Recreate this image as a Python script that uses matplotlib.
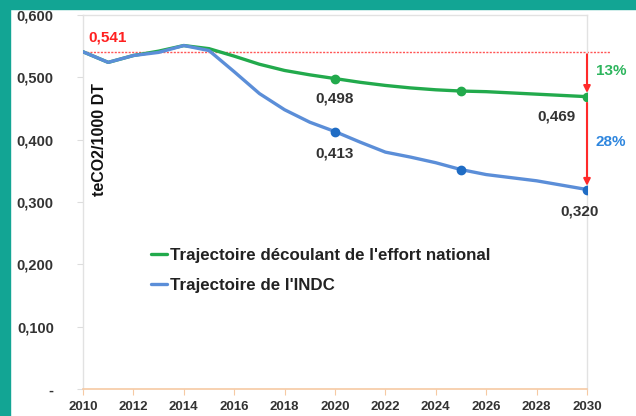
import matplotlib
matplotlib.use("Agg")
import matplotlib.pyplot as plt
from matplotlib.patches import Rectangle

years = list(range(2010, 2031))
national = [0.541, 0.524, 0.535, 0.542, 0.551, 0.546, 0.534, 0.521, 0.511, 0.504,
            0.498, 0.492, 0.487, 0.483, 0.480, 0.478, 0.477, 0.475, 0.473, 0.471, 0.469]
indc = [0.541, 0.524, 0.535, 0.540, 0.551, 0.543, 0.509, 0.474, 0.448, 0.428,
        0.413, 0.396, 0.380, 0.372, 0.363, 0.352, 0.344, 0.339, 0.334, 0.327, 0.320]
marker_years = [2020, 2025, 2030]
national_labels = {2020: "0,498", 2030: "0,469"}
indc_labels = {2020: "0,413", 2030: "0,320"}
baseline = 0.541
baseline_label = "0,541"
pct_national = "13%"
pct_indc = "28%"
ytick_vals = [0.0, 0.1, 0.2, 0.3, 0.4, 0.5, 0.6]
ytick_labels = ["-", "0,100", "0,200", "0,300", "0,400", "0,500", "0,600"]
xtick_vals = list(range(2010, 2031, 2))
series_names = ["Trajectoire découlant de l'effort national", "Trajectoire de l'INDC"]
unit_label = "teCO2/1000 DT"

plt.rcParams['font.family'] = ['Liberation Sans', 'DejaVu Sans']
plt.rcParams['font.weight'] = 'bold'

W, H = 636, 416
fig = plt.figure(figsize=(W / 100, H / 100), dpi=100)
fig.patch.set_facecolor("white")
teal = "#12A594"
fig.patches.append(Rectangle((0, 0), 10 / W, 1, transform=fig.transFigure, color=teal, zorder=0))
fig.patches.append(Rectangle((0, 1 - 9 / H), 1, 9 / H, transform=fig.transFigure, color=teal, zorder=0))

ax = fig.add_axes([83 / W, (H - 389) / H, (587 - 83) / W, (389 - 15) / H])
ax.set_xlim(2010, 2030)
ax.set_ylim(0, 0.6)

green = "#22AA4C"
blue_line = "#5B8ED8"
blue_mark = "#1F6CC4"
dark = "#333333"

idx = [years.index(y) for y in marker_years]
l1, = ax.plot(years, national, color=green, lw=2.4, solid_capstyle='round', zorder=3)
ax.plot(marker_years, [national[i] for i in idx], 'o', color=green, ms=6, zorder=4)
l2, = ax.plot(years, indc, color=blue_line, lw=2.4, solid_capstyle='round', zorder=3)
ax.plot(marker_years, [indc[i] for i in idx], 'o', color=blue_mark, ms=6, zorder=4)

ax.axhline(baseline, xmin=0, xmax=(610 - 83) / 504, color="#FF5555", lw=1.0,
           ls=(0, (1.5, 1)), clip_on=False, zorder=2)
ax.text(2010.2, baseline + 0.012, baseline_label, color="#FF2020", fontsize=11,
        fontweight='bold', ha='left', va='bottom')

for yr, lab in national_labels.items():
    v = national[years.index(yr)]
    xpos = 2028.8 if yr == 2030 else yr
    ax.text(xpos, v - 0.02, lab, color=dark, fontsize=11, ha='center', va='top', fontweight='bold')
for yr, lab in indc_labels.items():
    v = indc[years.index(yr)]
    xpos = 2029.7 if yr == 2030 else yr
    ax.text(xpos, v - 0.024, lab, color=dark, fontsize=11, ha='center', va='top', fontweight='bold')

arrow_kw = dict(arrowstyle='-|>', color="#FF2A2A", lw=1.5, mutation_scale=10, shrinkA=0, shrinkB=0)
ax.annotate("", xy=(2030, national[-1] + 0.006), xytext=(2030, baseline - 0.004),
            arrowprops=arrow_kw, annotation_clip=False, zorder=5)
ax.annotate("", xy=(2030, indc[-1] + 0.006), xytext=(2030, national[-1] - 0.01),
            arrowprops=arrow_kw, annotation_clip=False, zorder=5)
ax.text(2030.35, 0.51, pct_national, color="#2DB55D", fontsize=11, fontweight='bold', ha='left', va='center', clip_on=False)
ax.text(2030.35, 0.396, pct_indc, color="#2E86DE", fontsize=11, fontweight='bold', ha='left', va='center', clip_on=False)

ax.text(2010.66, 0.4, unit_label, rotation=90, color="#111111", fontsize=11.5,
        fontweight='bold', ha='center', va='center')

leg = ax.legend([l1, l2], series_names, loc='upper left', bbox_to_anchor=(0.135, 0.378),
                frameon=False, fontsize=12.2, handlelength=0.95, handletextpad=0.15,
                labelspacing=0.9, borderpad=0, borderaxespad=0)
for t in leg.get_texts():
    t.set_color("#222222")
    t.set_fontweight('bold')

ax.set_yticks(ytick_vals)
ax.set_yticklabels(ytick_labels)
ax.set_xticks(xtick_vals)
ax.set_xticklabels([str(x) for x in xtick_vals])
for lab in ax.get_yticklabels():
    lab.set_fontweight('bold')
    lab.set_color("#333333")
    lab.set_fontsize(10.5)
for lab in ax.get_xticklabels():
    lab.set_fontweight('bold')
    lab.set_color("#333333")
    lab.set_fontsize(9.5)

for s in ['top', 'left', 'right']:
    ax.spines[s].set_color("#E2E2E2")
    ax.spines[s].set_linewidth(1.0)
ax.spines['bottom'].set_color("#F6C9A3")
ax.spines['bottom'].set_linewidth(1.2)
ax.tick_params(axis='y', length=4, color="#DDDDDD", pad=17)
ax.tick_params(axis='x', length=4, color="#F6C9A3", pad=5)

fig.savefig("out.png", dpi=100, facecolor=fig.get_facecolor())
